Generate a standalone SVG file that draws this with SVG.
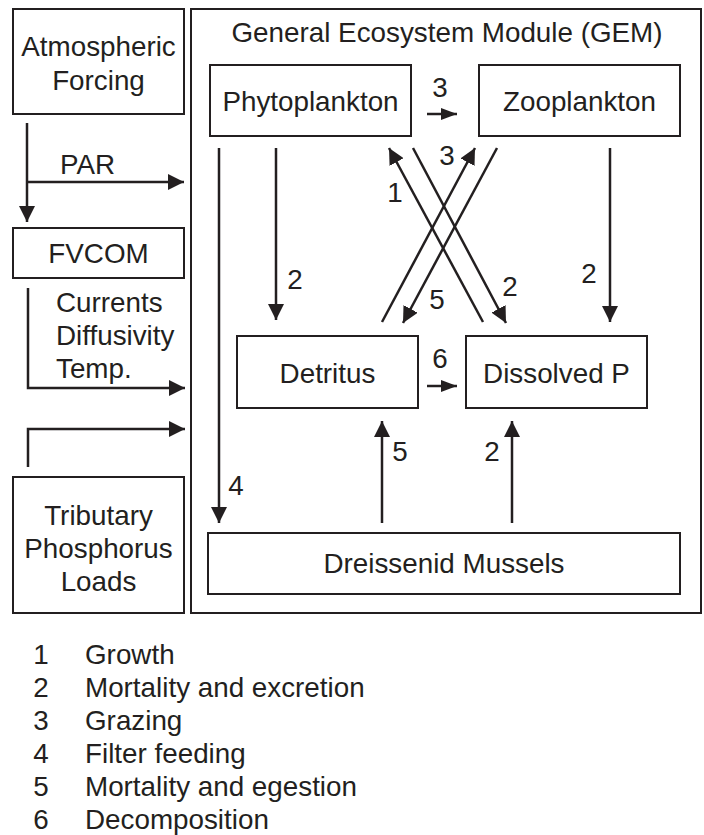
<svg xmlns="http://www.w3.org/2000/svg" width="704" height="835" viewBox="0 0 704 835">
<style>
text{font-family:"Liberation Sans",Arial,sans-serif;font-size:27.8px;fill:#231f20}
.c{text-anchor:middle}
.box{fill:none;stroke:#231f20;stroke-width:2}
.ar{fill:none;stroke:#231f20;stroke-width:2.5;marker-end:url(#ah)}
.sa{fill:none;stroke:#231f20;stroke-width:2.5;marker-end:url(#sh)}
</style>
<defs>
<marker id="ah" markerUnits="userSpaceOnUse" markerWidth="16" markerHeight="16" refX="16" refY="8" orient="auto" viewBox="0 0 16 16"><path d="M0,0 L16,8 L0,16 z" fill="#231f20"/></marker>
<marker id="sh" markerUnits="userSpaceOnUse" markerWidth="16" markerHeight="12" refX="16" refY="6" orient="auto" viewBox="0 0 16 12"><path d="M0,0 L16,6 L0,12 z" fill="#231f20"/></marker>
</defs>
<rect width="704" height="835" fill="#fff"/>

<g id="atmospheric">
<rect class="box" x="13" y="9" width="171" height="105"/>
<text class="c" x="98.5" y="56">Atmospheric</text>
<text class="c" x="98.5" y="90">Forcing</text>
</g>
<g id="fvcom">
<rect class="box" x="13" y="228" width="171" height="50"/>
<text class="c" x="98.5" y="263">FVCOM</text>
</g>
<g id="tributary">
<rect class="box" x="13" y="477" width="171" height="136"/>
<text class="c" x="98.5" y="525">Tributary</text>
<text class="c" x="98.5" y="558">Phosphorus</text>
<text class="c" x="98.5" y="591">Loads</text>
</g>
<g id="gem">
<rect class="box" x="191" y="9" width="510" height="604"/>
<text class="c" x="447" y="42">General Ecosystem Module (GEM)</text>
</g>
<g id="phytoplankton">
<rect class="box" x="210" y="65" width="201" height="71"/>
<text class="c" x="310.5" y="111">Phytoplankton</text>
</g>
<g id="zooplankton">
<rect class="box" x="479" y="65" width="201" height="71"/>
<text class="c" x="579.5" y="111">Zooplankton</text>
</g>
<g id="detritus">
<rect class="box" x="237" y="336" width="181" height="72"/>
<text class="c" x="327.5" y="383">Detritus</text>
</g>
<g id="dissolved">
<rect class="box" x="466" y="336" width="181" height="72"/>
<text class="c" x="556.5" y="383">Dissolved P</text>
</g>
<g id="mussels">
<rect class="box" x="208" y="533" width="472" height="61"/>
<text class="c" x="444" y="573">Dreissenid Mussels</text>
</g>

<g id="connectors">
<path class="ar" d="M27,123 V222"/>
<path class="ar" d="M27,182 H184"/>
<path class="ar" d="M28,288 V388 H185"/>
<path class="ar" d="M28,467 V429 H185"/>
<path class="ar" d="M219,148 V523"/>
<path class="ar" d="M276,148 V320"/>
<path class="ar" d="M610,148 V322"/>
<path class="sa" d="M427,114 H457"/>
<path class="sa" d="M427,386 H457"/>
<path class="ar" d="M382,523 V421"/>
<path class="ar" d="M512,523 V421"/>
<path class="ar" d="M483,322 L389,148"/>
<path class="ar" d="M413,148 L506,323"/>
<path class="ar" d="M382,322 L475,148"/>
<path class="ar" d="M497,148 L403,323"/>
</g>

<g id="labels">
<text x="60" y="174">PAR</text>
<text x="56" y="312">Currents</text>
<text x="56" y="345">Diffusivity</text>
<text x="56" y="378">Temp.</text>
<text class="c" x="440" y="97">3</text>
<text class="c" x="440" y="368">6</text>
<text class="c" x="395" y="202">1</text>
<text class="c" x="447" y="165">3</text>
<text class="c" x="437" y="309">5</text>
<text class="c" x="510" y="296">2</text>
<text class="c" x="295" y="289">2</text>
<text class="c" x="589" y="283">2</text>
<text class="c" x="236" y="495">4</text>
<text class="c" x="400" y="461">5</text>
<text class="c" x="492" y="461">2</text>
</g>

<g id="legend">
<text class="c" x="41" y="664">1</text><text x="85" y="664">Growth</text>
<text class="c" x="41" y="697">2</text><text x="85" y="697">Mortality and excretion</text>
<text class="c" x="41" y="730">3</text><text x="85" y="730">Grazing</text>
<text class="c" x="41" y="763">4</text><text x="85" y="763">Filter feeding</text>
<text class="c" x="41" y="796">5</text><text x="85" y="796">Mortality and egestion</text>
<text class="c" x="41" y="829">6</text><text x="85" y="829">Decomposition</text>
</g>
</svg>
